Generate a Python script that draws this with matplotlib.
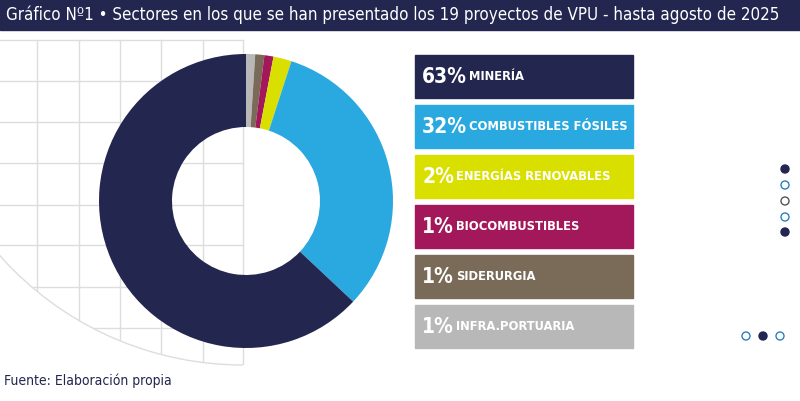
import matplotlib
matplotlib.use("Agg")
import matplotlib.pyplot as plt
import numpy as np
from matplotlib.patches import Rectangle, Circle

categories = ["MINERÍA", "COMBUSTIBLES FÓSILES", "ENERGÍAS RENOVABLES", "BIOCOMBUSTIBLES", "SIDERURGIA", "INFRA.PORTUARIA"]
values = [63, 32, 2, 1, 1, 1]
labels = ["63%", "32%", "2%", "1%", "1%", "1%"]
colors = ["#23264f", "#2aa8e0", "#d9e000", "#a3185a", "#7a6a58", "#b8b8b8"]
title = "Gráfico Nº1 • Sectores en los que se han presentado los 19 proyectos de VPU - hasta agosto de 2025"
source = "Fuente: Elaboración propia"

W, H = 800, 401
fig = plt.figure(figsize=(8, 4.01), dpi=100)
ax = fig.add_axes([0, 0, 1, 1])
Y = lambda y: H - y

# donut (clockwise from top: gray first)
ax.pie(values[::-1], colors=colors[::-1], startangle=90, counterclock=False,
       center=(246, Y(201)), radius=147, wedgeprops=dict(width=73, linewidth=0), frame=True)
ax.set_xlim(0, W); ax.set_ylim(0, H); ax.set_aspect("equal"); ax.axis("off")

# grid background clipped by arc
clip = Circle((243, Y(40)), 325, transform=ax.transData)
for gx in [37, 79, 120, 161, 203, 243]:
    l, = ax.plot([gx, gx], [Y(40), Y(400)], color="#dddddd", lw=1, zorder=0)
    l.set_clip_path(clip)
for gy in [40, 81, 122, 163, 205, 245, 287, 328]:
    l, = ax.plot([0, 243], [Y(gy), Y(gy)], color="#dddddd", lw=1, zorder=0)
    l.set_clip_path(clip)
ax.add_patch(matplotlib.patches.Arc((243, Y(40)), 650, 650, theta1=180, theta2=270,
                                    color="#dddddd", lw=1, zorder=0))

# title bar
ax.add_patch(Rectangle((0, Y(30)), W, 30, color="#23264f", zorder=5))
ax.text(6, Y(15), title, color="white", fontsize=12.2, va="center", ha="left",
        fontfamily="DejaVu Sans", stretch="condensed", zorder=6)

# legend boxes
for i, (lab, cat, c) in enumerate(zip(labels, categories, colors)):
    top = 55 + i * 50
    ax.add_patch(Rectangle((415, Y(top + 43)), 218, 43, color=c, zorder=5))
    t = ax.text(422, Y(top + 22), lab, color="white", fontsize=15, fontweight="bold",
                va="center", ha="left", fontfamily="DejaVu Sans", stretch="condensed", zorder=6)
    ax.annotate(cat, xy=(1, 0.5), xycoords=t, xytext=(1.5, 0), textcoords="offset points",
                color="white", fontsize=9.3, fontweight="bold", va="center", ha="left",
                fontfamily="DejaVu Sans", stretch="condensed", zorder=6)

# decorative dots
for yy, filled, ec in [(169, True, "#23264f"), (185, False, "#2a7fc0"), (201, False, "#555555"),
                       (217, False, "#2a7fc0"), (232, True, "#23264f")]:
    ax.add_patch(Circle((785, Y(yy)), 4, facecolor="#23264f" if filled else "white", edgecolor=ec, lw=1, zorder=5))
for xx, filled in [(746, False), (763, True), (780, False)]:
    ax.add_patch(Circle((xx, Y(336)), 4, facecolor="#23264f" if filled else "white",
                        edgecolor="#23264f" if filled else "#2a7fc0", lw=1, zorder=5))

ax.text(4, Y(381), source, color="#23264f", fontsize=10, va="center", ha="left",
        fontfamily="DejaVu Sans", stretch="condensed")

fig.savefig("out.png", dpi=100)
